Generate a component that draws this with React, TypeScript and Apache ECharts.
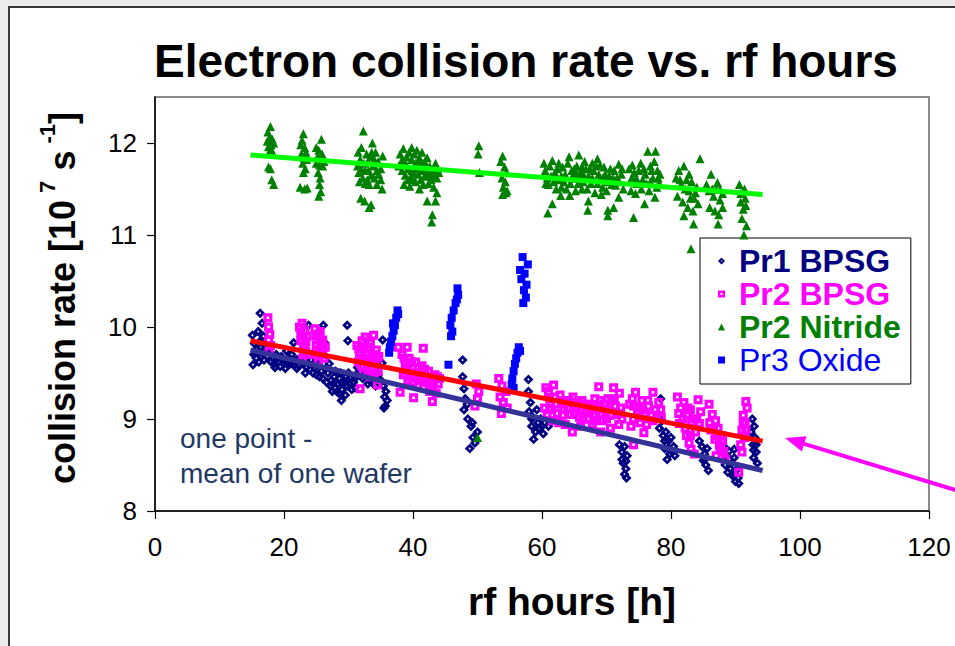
import React, { useEffect, useRef } from "react";
import * as echarts from "echarts";

const seriesNames = ["Pr1 BPSG", "Pr2 BPSG", "Pr2 Nitride", "Pr3 Oxide"];
const yTicks = [8, 9, 10, 11, 12];
const xTicks = [0, 20, 40, 60, 80, 100, 120];

// Pr1 BPSG (navy diamonds): [rf hours, collision rate]
const pr1Bpsg: number[][] = [
  [16.3, 10.15], [16.6, 10.04], [15.1, 9.91], [16.0, 9.95], [16.8, 9.9], [15.4, 9.82], [15.8, 9.76], [16.2, 9.84],
  [16.6, 9.72], [17.0, 9.8], [15.3, 9.7], [15.7, 9.66], [16.1, 9.62], [16.5, 9.68], [16.9, 9.64], [15.2, 9.59], [17.2, 9.74],
  [17.8, 9.72], [18.3, 9.66], [18.8, 9.7], [19.2, 9.62], [19.6, 9.68], [20.0, 9.6], [20.4, 9.74], [20.8, 9.66],
  [21.2, 9.7], [21.5, 9.83], [21.9, 9.64], [22.3, 9.58], [22.7, 9.68], [23.1, 9.6], [23.5, 9.56], [19.4, 9.57], [20.2, 9.55], [23.8, 10.02],
  [18.5, 9.6], [19.8, 9.64], [21.0, 9.6], [22.0, 9.55],
  [15.6, 9.72], [16.4, 9.78], [17.4, 9.68], [18.0, 9.62], [18.6, 9.56], [19.0, 9.66], [20.6, 9.6], [21.6, 9.58], [22.4, 9.64],
  [23.3, 9.5], [24.0, 9.54], [24.6, 9.6], [25.0, 9.48], [26.0, 9.44], [26.6, 9.4],
  [24.2, 9.64], [24.8, 9.56], [25.3, 9.6], [25.8, 9.52], [26.1, 10.02], [26.3, 9.83], [24.5, 9.5], [25.5, 9.46], [26.5, 9.55],
  [26.8, 9.5], [27.3, 9.42], [27.8, 9.46], [28.3, 9.38], [28.8, 9.5], [29.3, 9.42], [29.8, 9.36], [30.3, 9.45], [30.8, 9.4],
  [31.2, 9.48], [27.5, 9.3], [28.5, 9.28], [29.5, 9.26], [30.5, 9.32], [28.0, 9.52], [29.8, 10.02], [29.9, 9.85], [27.0, 9.6], [28.9, 9.2],
  [27.2, 9.36], [28.6, 9.44], [30.0, 9.5], [31.0, 9.34], [29.0, 9.32],
  [27.6, 9.38], [28.2, 9.3], [29.0, 9.4], [29.6, 9.46], [30.2, 9.38], [31.0, 9.44], [31.4, 9.56], [32.4, 9.5], [33.2, 9.42],
  [33.8, 9.44], [34.4, 9.44], [35.0, 9.42],
  [31.6, 9.5], [32.2, 9.44], [32.8, 9.52], [33.4, 9.46], [34.0, 9.4], [34.6, 9.48], [35.2, 9.61], [33.0, 9.38], [34.2, 9.36], [35.3, 9.86],
  [35.4, 9.36], [35.8, 9.3], [35.6, 9.24], [36.0, 9.2], [35.7, 9.14], [35.5, 9.12],
  [47.7, 9.64], [47.7, 9.46], [47.9, 9.33], [48.1, 9.22], [47.9, 9.1], [48.5, 9.0], [49.0, 8.92], [49.3, 8.8], [48.8, 8.68],
  [49.6, 8.74], [50.0, 8.86], [49.2, 8.96], [48.4, 9.16],
  [57.9, 9.43], [57.9, 9.3], [58.2, 9.18], [58.0, 9.08], [58.6, 9.02], [59.2, 9.1], [59.8, 9.0], [60.4, 8.96], [58.4, 8.92],
  [59.0, 8.86], [59.6, 8.9], [60.2, 8.84], [58.7, 8.78], [61.0, 8.92], [58.4, 9.0], [59.4, 8.96], [60.0, 8.92],
  [72.0, 8.72], [72.4, 8.64], [72.8, 8.7], [73.2, 8.6], [72.6, 8.52], [73.0, 8.46], [72.8, 8.4], [73.1, 8.36], [72.4, 8.56], [73.0, 8.54],
  [78.4, 9.22], [78.6, 8.98], [78.2, 8.9], [78.8, 8.82], [79.2, 8.86], [79.6, 8.76], [80.0, 8.8], [80.4, 8.7], [79.0, 8.68],
  [79.8, 8.62], [80.6, 8.6], [79.4, 8.56], [79.0, 8.76], [80.2, 8.64], [79.6, 8.68],
  [84.4, 8.76], [84.8, 8.7], [85.2, 8.62], [85.6, 8.68], [85.0, 8.55], [85.4, 8.5], [85.8, 8.44], [85.2, 8.56],
  [88.2, 8.7], [88.6, 8.6], [89.0, 8.65], [89.4, 8.52], [89.8, 8.58], [90.2, 8.45], [88.8, 8.42], [89.6, 8.38], [90.0, 8.32],
  [90.5, 8.3], [88.4, 8.5], [89.8, 8.67], [89.2, 8.46], [89.8, 8.4], [90.4, 8.36],
  [92.6, 9.0], [92.9, 8.92], [92.4, 8.86], [93.0, 8.8], [92.7, 8.72], [93.2, 8.64], [92.8, 8.58], [93.4, 8.52], [92.8, 8.66], [93.2, 8.72],
];

// Pr2 BPSG (magenta hollow squares)
const pr2Bpsg: number[][] = [
  [17.5, 10.1], [17.6, 10.0], [17.8, 9.92], [17.6, 9.86], [17.9, 9.8], [17.7, 9.74],
  [22.4, 10.0], [22.8, 10.04], [23.2, 9.96], [23.6, 9.9], [22.6, 9.85], [23.0, 9.8], [23.4, 9.74], [23.8, 9.7], [22.9, 9.66],
  [22.6, 9.94], [23.0, 9.9], [23.4, 9.84], [23.2, 9.7],
  [24.8, 9.98], [25.2, 9.92], [25.6, 9.95], [26.0, 9.86], [25.0, 9.8], [25.4, 9.75], [25.8, 9.7], [26.2, 9.66], [25.3, 9.62], [26.4, 9.78],
  [25.0, 9.9], [25.6, 9.84], [26.0, 9.74], [25.2, 9.7],
  [31.3, 9.8], [31.7, 9.72], [32.1, 9.85], [32.6, 9.89], [33.0, 9.78], [33.4, 9.82], [33.9, 9.91], [34.3, 9.75], [34.7, 9.68],
  [31.5, 9.62], [32.0, 9.58], [32.5, 9.66], [33.0, 9.6], [33.6, 9.55], [34.1, 9.62], [34.6, 9.52], [32.3, 9.5], [33.3, 9.46],
  [31.8, 9.33], [34.5, 9.37],
  [31.6, 9.76], [32.4, 9.76], [32.8, 9.7], [33.2, 9.66], [33.8, 9.7], [34.4, 9.66], [31.9, 9.66], [33.0, 9.52], [34.0, 9.5],
  [37.7, 9.78], [39.1, 9.78], [41.6, 9.77], [38.3, 9.7], [38.8, 9.6], [39.4, 9.66], [39.9, 9.55], [40.4, 9.62], [40.9, 9.5],
  [41.4, 9.58], [41.9, 9.46], [42.4, 9.52], [42.9, 9.42], [43.4, 9.48], [43.9, 9.38], [38.5, 9.48], [39.2, 9.42], [40.0, 9.4],
  [40.8, 9.36], [41.6, 9.34], [42.6, 9.3], [43.6, 9.28], [44.1, 9.44], [38.0, 9.29], [40.1, 9.23], [43.0, 9.19],
  [38.9, 9.52], [39.6, 9.46], [40.6, 9.44], [41.2, 9.42], [42.2, 9.4], [43.0, 9.34],
  [38.6, 9.66], [39.2, 9.56], [40.2, 9.5], [40.8, 9.56], [41.8, 9.54], [42.4, 9.44], [43.2, 9.4], [43.8, 9.46], [39.8, 9.62], [41.0, 9.44],
  [49.8, 9.38], [50.2, 9.3], [50.0, 9.22], [49.6, 9.14],
  [53.3, 9.44], [53.8, 9.36], [54.4, 9.3], [53.5, 9.24], [54.0, 9.18], [54.6, 9.12], [53.7, 9.06],
  [60.6, 9.34], [61.8, 9.37], [61.2, 9.22], [62.2, 9.16], [62.8, 9.26], [63.4, 9.1], [63.8, 9.2], [64.4, 9.05], [64.8, 9.24],
  [65.4, 9.12], [65.8, 9.02], [66.2, 9.2], [66.8, 9.08], [67.2, 9.0], [67.6, 9.14], [68.2, 9.22], [68.8, 9.35], [69.2, 9.06],
  [69.6, 9.16], [70.0, 9.0], [70.4, 9.1], [70.8, 9.2], [71.1, 9.34], [71.6, 9.05], [72.0, 9.28], [72.4, 9.0], [60.8, 9.05],
  [61.6, 8.98], [62.6, 8.96], [63.6, 8.94], [64.7, 8.86], [66.0, 8.92], [67.8, 8.94], [69.1, 8.86], [70.6, 8.9], [71.9, 8.94], [60.4, 9.12],
  [61.0, 9.3], [62.4, 9.06], [63.0, 9.18], [64.0, 9.12], [65.0, 9.06], [65.6, 9.18], [66.4, 9.0], [67.0, 9.16], [68.0, 9.04],
  [68.6, 9.12], [69.4, 8.98], [70.2, 9.22], [71.4, 9.14], [72.2, 9.12],
  [61.4, 9.12], [62.0, 9.24], [63.2, 9.04], [64.2, 9.2], [65.2, 9.16], [66.0, 9.1], [66.6, 9.16], [67.4, 9.08], [68.4, 9.1],
  [69.0, 9.2], [69.8, 9.1], [70.6, 9.04], [71.2, 9.22], [72.0, 9.06], [61.2, 9.1], [68.2, 8.98],
  [73.6, 9.16], [74.0, 9.22], [74.5, 9.29], [75.0, 9.12], [75.5, 9.2], [76.0, 9.06], [76.5, 9.14], [77.2, 9.29], [77.6, 9.1],
  [78.1, 9.18], [78.5, 9.02], [74.2, 9.0], [75.2, 8.96], [76.2, 8.94], [77.2, 8.98], [74.2, 8.72], [75.8, 8.85], [73.8, 8.92],
  [74.2, 9.14], [74.8, 9.06], [75.6, 9.1], [76.4, 9.2], [77.0, 9.04], [77.8, 9.02], [78.4, 9.1], [75.0, 9.02],
  [81.0, 9.24], [81.5, 9.12], [82.0, 9.18], [82.5, 9.05], [83.0, 9.1], [83.5, 9.0], [84.2, 9.21], [84.6, 9.08], [81.3, 8.95],
  [82.2, 8.9], [83.0, 8.82], [83.8, 8.86], [84.4, 8.95], [82.8, 8.74], [83.1, 8.67], [83.6, 8.62],
  [81.2, 9.06], [81.8, 9.0], [82.6, 9.12], [83.2, 8.96], [84.0, 9.0], [82.4, 8.82],
  [85.9, 9.16], [86.4, 9.05], [86.9, 8.98], [87.3, 8.9], [87.8, 8.82], [86.2, 8.88], [86.8, 8.78], [87.5, 8.72], [88.2, 8.65],
  [87.0, 8.6], [88.4, 8.56], [86.0, 8.96], [86.6, 8.9], [87.2, 8.82], [87.6, 8.68], [88.0, 8.76],
  [91.6, 9.19], [91.8, 9.12], [91.2, 9.04], [91.5, 8.96], [91.0, 8.88], [91.4, 8.8], [90.8, 8.72], [91.0, 8.64], [90.5, 8.42],
  [91.2, 8.96], [91.6, 8.88],
];

// Pr2 Nitride (green triangles)
const pr2Nitride: number[][] = [
  [17.4, 12.02], [17.5, 12.12], [17.6, 11.96], [17.7, 11.9], [17.8, 12.06], [17.9, 12.18], [18.0, 11.98], [18.1, 11.92],
  [18.2, 12.04], [18.3, 11.88], [18.4, 12.0], [17.6, 11.74], [17.9, 11.72], [18.1, 11.6], [18.4, 11.55],
  [22.6, 11.98], [22.8, 12.03], [23.0, 12.1], [23.2, 11.95], [23.4, 11.9], [22.7, 11.88], [23.1, 11.84], [23.5, 11.82],
  [22.9, 11.78], [23.3, 11.72], [23.0, 11.68], [22.5, 11.52], [23.2, 11.5], [23.6, 11.51],
  [25.8, 12.04], [25.0, 11.95], [25.4, 11.92], [25.9, 11.88], [25.2, 11.85], [25.6, 11.83], [26.2, 11.8], [25.0, 11.78],
  [25.5, 11.76], [26.0, 11.75], [25.3, 11.68], [25.6, 11.62], [25.5, 11.55], [25.7, 11.47], [25.4, 11.42],
  [32.3, 12.13], [33.7, 12.0], [31.5, 11.9], [31.8, 11.82], [32.0, 11.95], [32.4, 11.78], [32.8, 11.88], [33.1, 11.7],
  [33.4, 11.85], [33.8, 11.75], [34.2, 11.9], [34.6, 11.8], [35.0, 11.72], [35.3, 11.86], [31.6, 11.68], [32.2, 11.62],
  [32.9, 11.6], [33.5, 11.65], [34.0, 11.62], [34.7, 11.66], [31.7, 11.58], [33.2, 11.55], [35.2, 11.5], [31.9, 11.4],
  [32.5, 11.37], [33.2, 11.3], [33.5, 11.33],
  [31.4, 11.75], [32.0, 11.72], [32.6, 11.7], [33.0, 11.8], [33.6, 11.9], [34.4, 11.7], [35.0, 11.6], [34.0, 11.82],
  [32.6, 11.56], [34.4, 11.55],
  [38.0, 11.88], [38.5, 11.94], [39.0, 11.85], [39.4, 11.9], [39.8, 11.95], [40.2, 11.88], [40.6, 11.92], [41.0, 11.84],
  [41.4, 11.9], [41.8, 11.8], [42.2, 11.84], [42.6, 11.75], [43.0, 11.7], [43.5, 11.78], [37.8, 11.75], [38.3, 11.7],
  [38.8, 11.65], [39.2, 11.72], [39.6, 11.62], [40.0, 11.68], [40.4, 11.58], [40.8, 11.66], [41.2, 11.6], [41.6, 11.55],
  [42.0, 11.64], [42.4, 11.56], [42.8, 11.6], [43.2, 11.52], [43.7, 11.62], [38.6, 11.55], [39.5, 11.53], [42.2, 11.37],
  [43.5, 11.37], [43.0, 11.22], [42.9, 11.14], [43.7, 11.46], [44.0, 11.68],
  [38.2, 11.8], [39.0, 11.76], [40.4, 11.78], [41.2, 11.7], [42.0, 11.72], [42.8, 11.66], [40.8, 11.8],
  [38.4, 11.82], [39.2, 11.6], [39.8, 11.82], [40.0, 11.6], [40.6, 11.72], [41.4, 11.78], [41.8, 11.64], [42.4, 11.68],
  [43.2, 11.64], [43.8, 11.72], [39.8, 11.7], [41.0, 11.5],
  [50.2, 11.97], [50.1, 11.88], [50.3, 11.68],
  [53.6, 11.8], [53.9, 11.86], [54.2, 11.74], [54.5, 11.68], [53.8, 11.62], [54.3, 11.58], [54.0, 11.52], [54.6, 11.48],
  [53.9, 11.44], [54.4, 11.46],
  [60.5, 11.7], [60.8, 11.62], [61.2, 11.75], [61.6, 11.81], [62.0, 11.68], [62.4, 11.72], [62.8, 11.6], [63.2, 11.74],
  [63.6, 11.66], [64.0, 11.78], [64.2, 11.85], [64.6, 11.7], [65.0, 11.62], [65.4, 11.75], [65.7, 11.87], [66.0, 11.68],
  [66.4, 11.58], [66.8, 11.72], [67.2, 11.64], [67.6, 11.56], [68.0, 11.7], [68.4, 11.75], [68.6, 11.83], [69.0, 11.6],
  [69.4, 11.52], [69.8, 11.66], [70.2, 11.58], [70.6, 11.72], [71.0, 11.62], [71.4, 11.54], [71.9, 11.77], [72.3, 11.66],
  [72.6, 11.5], [61.0, 11.55], [62.2, 11.5], [63.0, 11.52], [64.4, 11.56], [65.2, 11.48], [66.2, 11.5], [68.2, 11.46],
  [70.0, 11.48], [60.9, 11.24], [61.6, 11.34], [62.9, 11.43], [64.3, 11.43], [67.2, 11.37], [67.1, 11.27], [70.2, 11.27],
  [70.2, 11.21], [71.1, 11.3], [71.9, 11.41],
  [60.3, 11.78], [61.4, 11.64], [62.6, 11.78], [63.4, 11.58], [64.8, 11.64], [65.6, 11.56], [66.6, 11.8], [67.4, 11.72],
  [68.8, 11.66], [69.6, 11.74], [70.4, 11.64], [71.2, 11.7], [72.0, 11.58], [65.0, 11.72], [67.0, 11.5], [69.2, 11.44],
  [60.6, 11.56], [61.8, 11.58], [62.2, 11.62], [63.8, 11.5], [64.6, 11.62], [65.4, 11.66], [66.4, 11.66], [67.8, 11.62],
  [68.6, 11.56], [69.4, 11.62], [70.8, 11.55], [71.6, 11.62], [72.4, 11.72], [63.0, 11.64], [66.2, 11.74], [67.8, 11.78], [69.0, 11.76],
  [73.5, 11.72], [73.9, 11.62], [74.3, 11.68], [74.7, 11.56], [75.0, 11.7], [75.3, 11.78], [75.6, 11.6], [76.0, 11.66],
  [76.4, 11.91], [76.8, 11.75], [77.2, 11.62], [77.6, 11.91], [77.9, 11.7], [78.2, 11.56], [73.8, 11.48], [74.5, 11.45],
  [75.4, 11.5], [76.6, 11.48], [77.8, 11.52], [74.2, 11.19], [75.9, 11.34], [77.5, 11.41],
  [74.0, 11.76], [76.2, 11.56], [77.0, 11.7], [78.0, 11.62], [74.6, 11.62], [75.8, 11.72], [76.8, 11.58], [77.4, 11.8], [78.3, 11.66],
  [80.8, 11.62], [81.2, 11.7], [81.6, 11.55], [82.0, 11.75], [82.4, 11.6], [82.8, 11.48], [83.2, 11.58], [83.6, 11.4],
  [84.0, 11.52], [84.5, 11.83], [81.0, 11.42], [81.8, 11.36], [82.6, 11.3], [83.4, 11.26], [84.2, 11.34], [82.0, 11.21],
  [83.5, 11.12], [83.1, 10.85], [81.4, 11.6], [82.2, 11.5], [83.0, 11.4], [83.8, 11.46], [82.8, 11.66],
  [85.5, 11.55], [85.9, 11.48], [86.2, 11.66], [86.6, 11.42], [87.0, 11.5], [87.2, 11.57], [87.6, 11.38], [88.0, 11.45],
  [86.0, 11.3], [86.8, 11.26], [87.4, 11.22], [87.3, 11.12], [86.4, 11.5], [87.6, 11.5], [88.0, 11.3],
  [90.6, 11.55], [91.0, 11.45], [91.4, 11.5], [90.8, 11.36], [91.2, 11.28], [91.6, 11.32], [91.0, 11.18], [91.7, 11.1], [91.3, 11.0],
  [90.8, 11.45], [91.5, 11.4],
  [50.0, 8.8],
];

// Pr3 Oxide (blue squares)
const pr3Oxide: number[][] = [
  [37.6, 10.18], [37.4, 10.1], [37.2, 10.02], [37.0, 9.96], [36.8, 9.9], [36.6, 9.84], [36.4, 9.78], [36.3, 9.72], [37.7, 10.14], [36.9, 10.04],
  [46.9, 10.42], [47.0, 10.35], [46.8, 10.3], [46.6, 10.26], [46.3, 10.18], [46.0, 10.1], [45.8, 10.02], [46.1, 9.95], [45.9, 9.9], [45.5, 9.59],
  [57.0, 10.76], [57.8, 10.68], [56.6, 10.62], [57.3, 10.58], [56.8, 10.52], [57.6, 10.46], [57.2, 10.4], [57.5, 10.32], [57.1, 10.26],
  [56.4, 9.78], [56.2, 9.72], [56.0, 9.66], [55.8, 9.6], [55.6, 9.52], [55.4, 9.44], [55.3, 9.38], [55.6, 9.34], [56.6, 9.74],
];

// Linear trend lines (end points)
const trendX = [14.8, 94.2];
const trendPr1 = [9.75, 8.44];
const trendPr2 = [9.85, 8.76];
const trendNitride = [11.87, 11.44];

const FONT = '"Liberation Sans", Arial, Helvetica, sans-serif';

// marker shapes: solid outline with a small hole in the middle
const DIAMOND_DOT = "path://M0,-10L10,0L0,10L-10,0Z M0,-2.4L-2.4,0L0,2.4L2.4,0Z";
const SQUARE_DOT = "path://M-10,-10L10,-10L10,10L-10,10Z M-2.8,-2.8L-2.8,2.8L2.8,2.8L2.8,-2.8Z";

export default function App() {
  const ref = useRef<HTMLDivElement>(null);

  useEffect(() => {
    if (!ref.current) return;
    const chart = echarts.init(ref.current, undefined, { renderer: "svg" });

    const trend = (ys: number[]) => trendX.map((x, i) => [x, ys[i]]);

    // arrow geometry (pixels)
    const tip = [785, 438];
    const tail = [962, 492];
    const dx = tail[0] - tip[0];
    const dy = tail[1] - tip[1];
    const len = Math.sqrt(dx * dx + dy * dy);
    const ux = dx / len;
    const uy = dy / len;
    const headLen = 20;
    const headHalf = 8;
    const bx = tip[0] + ux * headLen;
    const by = tip[1] + uy * headLen;

    const option: any = {
      animation: false,
      textStyle: { fontFamily: FONT },
      grid: {
        left: 155,
        right: 26,
        top: 97,
        bottom: 135,
        show: true,
        borderColor: "#8c8c8c",
        borderWidth: 2,
        backgroundColor: "#fff",
      },
      xAxis: {
        type: "value",
        min: 0,
        max: 120,
        interval: 20,
        axisLine: { show: true, onZero: false, lineStyle: { color: "#000", width: 1.5 } },
        axisTick: { show: true, inside: false, length: 8, lineStyle: { color: "#000", width: 1.2 } },
        axisLabel: { fontSize: 26, color: "#000", margin: 23, fontFamily: FONT },
        splitLine: { show: false },
      },
      yAxis: {
        type: "value",
        min: 8,
        max: 12.5,
        interval: 1,
        axisLine: { show: true, onZero: false, lineStyle: { color: "#000", width: 1.5 } },
        axisTick: { show: true, inside: false, length: 8, customValues: yTicks, lineStyle: { color: "#000", width: 1.2 } },
        axisLabel: { fontSize: 26, color: "#000", margin: 18, fontFamily: FONT, customValues: yTicks },
        splitLine: { show: false },
      },
      legend: {
        orient: "vertical",
        left: 700,
        top: 238,
        padding: [7, 10, 8, 18],
        itemGap: 1,
        itemWidth: 7,
        itemHeight: 7,
        borderColor: "#000",
        borderWidth: 1,
        backgroundColor: "#fff",
        textStyle: { fontSize: 32, fontFamily: FONT, padding: [0, 0, 0, 9] },
        data: [
          { name: seriesNames[0], textStyle: { color: "#000080", fontWeight: "bold" } },
          { name: seriesNames[1], textStyle: { color: "#ff00ff", fontWeight: "bold" } },
          { name: seriesNames[2], textStyle: { color: "#008000", fontWeight: "bold" } },
          { name: seriesNames[3], textStyle: { color: "#0000ff", fontWeight: "normal" } },
        ],
      },
      series: [
        {
          name: seriesNames[0],
          type: "scatter",
          symbol: DIAMOND_DOT,
          symbolSize: 10,
          itemStyle: { color: "#000080", borderWidth: 0, opacity: 1 },
          data: pr1Bpsg,
          z: 2,
        },
        {
          name: seriesNames[1],
          type: "scatter",
          symbol: SQUARE_DOT,
          symbolSize: 9,
          itemStyle: { color: "#ff00ff", borderWidth: 0, opacity: 1 },
          data: pr2Bpsg,
          z: 3,
        },
        {
          name: seriesNames[2],
          type: "scatter",
          symbol: "triangle",
          symbolSize: 9,
          itemStyle: { color: "#008000", borderWidth: 0, opacity: 1 },
          data: pr2Nitride,
          z: 4,
        },
        {
          name: seriesNames[3],
          type: "scatter",
          symbol: "rect",
          symbolSize: 8,
          itemStyle: { color: "#0000ff", borderWidth: 0, opacity: 1 },
          data: pr3Oxide,
          z: 5,
        },
        {
          name: "Pr1 trend",
          type: "line",
          data: trend(trendPr1),
          showSymbol: false,
          symbol: "none",
          lineStyle: { color: "#333399", width: 5 },
          z: 6,
        },
        {
          name: "Pr2 trend",
          type: "line",
          data: trend(trendPr2),
          showSymbol: false,
          symbol: "none",
          lineStyle: { color: "#ff0000", width: 5 },
          z: 6,
        },
        {
          name: "Nitride trend",
          type: "line",
          data: trend(trendNitride),
          showSymbol: false,
          symbol: "none",
          lineStyle: { color: "#00ff00", width: 5 },
          z: 6,
        },
      ],
      graphic: [
        {
          type: "text",
          x: 526,
          y: 61,
          style: {
            text: "Electron collision rate vs. rf hours",
            font: `bold 46px ${FONT}`,
            fill: "#000",
            align: "center",
            verticalAlign: "middle",
          },
        },
        {
          type: "text",
          x: 572,
          y: 601,
          style: {
            text: "rf hours [h]",
            font: `bold 39px ${FONT}`,
            fill: "#000",
            align: "center",
            verticalAlign: "middle",
          },
        },
        {
          type: "text",
          x: 58,
          y: 298,
          rotation: Math.PI / 2,
          style: {
            text: "{b|collision rate [10}{s|7}{b| s}{s|-1}{b|]}",
            align: "center",
            verticalAlign: "middle",
            fill: "#000",
            rich: {
              b: { fontSize: 36, fontWeight: "bold", fontFamily: FONT, fill: "#000", verticalAlign: "bottom", lineHeight: 44 },
              s: { fontSize: 22, fontWeight: "bold", fontFamily: FONT, fill: "#000", verticalAlign: "top", padding: [0, 0, 0, 7] },
            },
          },
        },
        {
          type: "text",
          x: 180,
          y: 438,
          style: {
            text: "one point -",
            font: `28px ${FONT}`,
            fill: "#1f3864",
            align: "left",
            verticalAlign: "middle",
          },
        },
        {
          type: "text",
          x: 180,
          y: 473,
          style: {
            text: "mean of one wafer",
            font: `28px ${FONT}`,
            fill: "#1f3864",
            align: "left",
            verticalAlign: "middle",
          },
        },
        {
          type: "line",
          shape: { x1: tail[0], y1: tail[1], x2: bx, y2: by },
          style: { stroke: "#ff00ff", lineWidth: 4 },
          z: 100,
        },
        {
          type: "polygon",
          shape: {
            points: [
              [tip[0], tip[1]],
              [bx - uy * headHalf, by + ux * headHalf],
              [bx + uy * headHalf, by - ux * headHalf],
            ],
          },
          style: { fill: "#ff00ff" },
          z: 100,
        },
      ],
    };

    chart.setOption(option);
    return () => chart.dispose();
  }, []);

  return (
    <div
      style={{
        position: "fixed",
        left: 0,
        top: 0,
        width: 955,
        height: 646,
        background: "#ebebeb",
        overflow: "hidden",
      }}
    >
      <div
        style={{
          position: "absolute",
          left: 8,
          top: 6,
          width: 960,
          height: 660,
          background: "#ffffff",
          borderLeft: "2px solid #3a3a3a",
          borderTop: "2px solid #3a3a3a",
        }}
      />
      <div ref={ref} style={{ position: "absolute", left: 0, top: 0, width: 955, height: 646 }} />
    </div>
  );
}
